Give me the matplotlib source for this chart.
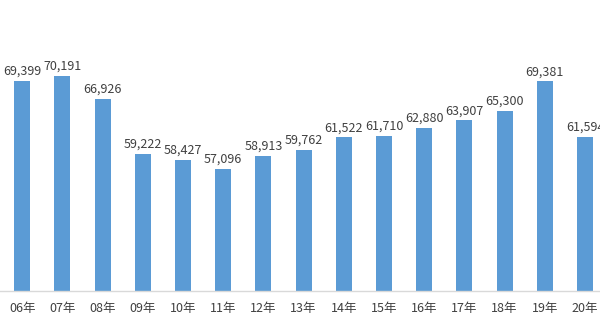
import numpy as np
import matplotlib.pyplot as plt

plt.rcParams['font.family'] = ['Noto Sans CJK JP', 'DejaVu Sans']

years = ['05年', '06年', '07年', '08年', '09年', '10年', '11年', '12年',
         '13年', '14年', '15年', '16年', '17年', '18年', '19年', '20年']
values = [68800, 69399, 70191, 66926, 59222, 58427, 57096, 58913,
          59762, 61522, 61710, 62880, 63907, 65300, 69381, 61594]

fig = plt.figure(figsize=(6, 3.28), dpi=100)
ax = fig.add_axes([0, 0.1128, 1, 0.87])

x = np.arange(len(years))
ax.bar(x, values, width=0.4, color='#5B9BD5', zorder=2)

for xi, v in zip(x, values):
    ax.text(xi, v + 450, f'{v:,}', ha='center', va='bottom',
            fontsize=9, color='#404040')

ax.set_xticks(x)
ax.set_xticklabels(years, fontsize=9, color='#404040')
ax.tick_params(axis='x', length=0, pad=8)
ax.set_yticks([])
# set limits after the ticks so the first category stays mostly out of view
ax.set_xlim(0.448, 15.373)
ax.set_ylim(40000, 80000)

for side in ['top', 'left', 'right']:
    ax.spines[side].set_visible(False)
ax.spines['bottom'].set_color('#D9D9D9')
ax.spines['bottom'].set_linewidth(1)

fig.savefig('out.png', dpi=100)
